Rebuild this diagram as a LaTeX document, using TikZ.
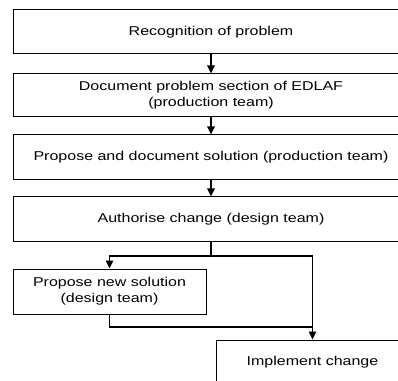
\documentclass[tikz,border=0pt]{standalone}
\usepackage{fontspec}
\setmainfont[FakeStretch=1.25]{Liberation Sans}
\usetikzlibrary{arrows.meta}
\begin{document}
\begin{tikzpicture}[x=1pt,y=1pt,
  box/.style={draw=black, line width=1pt, minimum width=193pt, minimum height=45pt,
    inner sep=0pt, align=center, font=\fontsize{12.8}{16}\selectfont},
  widebox/.style={box, minimum width=396pt},
  link/.style={line width=1.2pt},
  arrowlink/.style={link, -{Triangle[length=8pt,width=7.5pt]}}]
\useasboundingbox (0,0) rectangle (398,380);
\clip (0,0) rectangle (398,380);

% process steps
\node[widebox, minimum height=44pt] (recog) at (211,348) {Recognition of problem};
\node[widebox, minimum height=43pt] (docprob) at (211,284.5) {Document problem section of EDLAF\\(production team)};
\node[widebox] (propsol) at (211,222.5) {Propose and document solution (production team)};
\node[widebox] (auth) at (211,160.5) {Authorise change (design team)};
\node[box] (newsol) at (109.5,88.5) {Propose new solution\\(design team)};
\node[box] (impl) at (312.5,17.5) {Implement change};

% branch and merge points
\coordinate (split) at (211,124);
\coordinate (merge) at (312.5,53);

% main sequence
\draw[arrowlink] (recog) -- (docprob);
\draw[arrowlink] (docprob) -- (propsol);
\draw[arrowlink] (propsol) -- (auth);

% decision branch
\draw[link] (auth) -- (split);
\draw[arrowlink] (split) -| (newsol);
\draw[arrowlink] (split) -| (impl);
\draw[link] (newsol) |- (merge);
\end{tikzpicture}
\end{document}
